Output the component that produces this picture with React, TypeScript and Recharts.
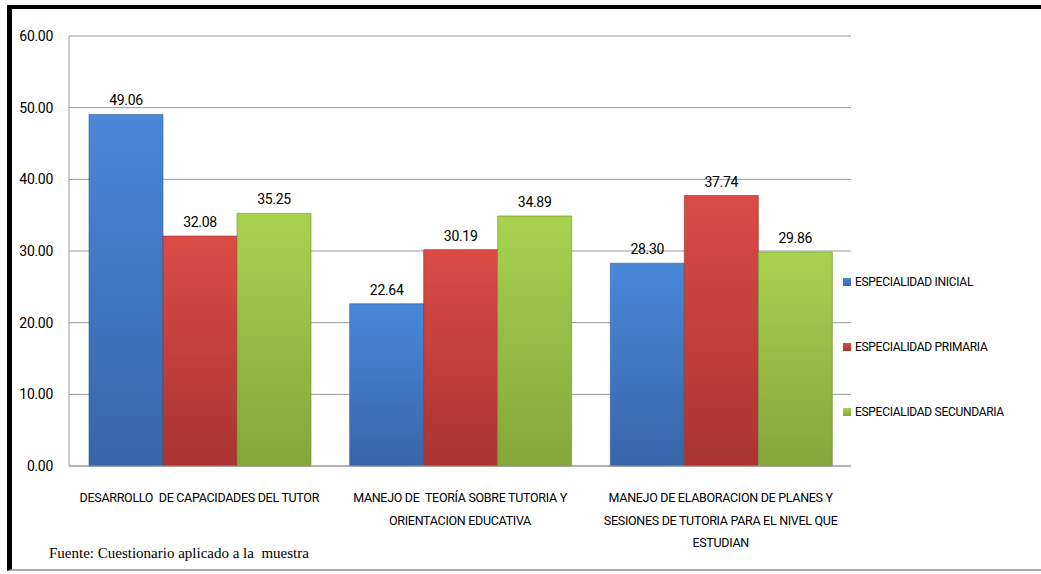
import React from 'react';
import { BarChart, Bar, XAxis, YAxis, CartesianGrid, LabelList } from 'recharts';

const categorias = [
  'DESARROLLO  DE CAPACIDADES DEL TUTOR',
  'MANEJO DE  TEORÍA SOBRE TUTORIA Y\nORIENTACION EDUCATIVA',
  'MANEJO DE ELABORACION DE PLANES Y\nSESIONES DE TUTORIA PARA EL NIVEL QUE\nESTUDIAN',
];
const inicial = [49.06, 22.64, 28.3];
const primaria = [32.08, 30.19, 37.74];
const secundaria = [35.25, 34.89, 29.86];
const ticksY = [0, 10, 20, 30, 40, 50, 60];

const series = [
  { key: 'inicial', nombre: 'ESPECIALIDAD INICIAL', top: '#4a88d8', bottom: '#3865ab', stroke: '#2f5a98' },
  { key: 'primaria', nombre: 'ESPECIALIDAD PRIMARIA', top: '#dc4b46', bottom: '#a93430', stroke: '#943029' },
  { key: 'secundaria', nombre: 'ESPECIALIDAD SECUNDARIA', top: '#a8d24e', bottom: '#84a63c', stroke: '#6f8f30' },
];

const data = categorias.map((c, i) => ({
  name: c,
  inicial: inicial[i],
  primaria: primaria[i],
  secundaria: secundaria[i],
}));

const FONT = 'Roboto, "Noto Sans", sans-serif';

function CategoriaTick(props: any) {
  const { x, y, payload } = props;
  const lineas = String(payload.value).split('\n');
  return (
    <g transform={`translate(${x},${y})`}>
      {lineas.map((l, i) => (
        <text key={i} x={0} y={25 + i * 22.5} textAnchor="middle" dominantBaseline="middle"
          fontSize={12.5} letterSpacing={-0.3} fill="#000" fontFamily={FONT} style={{ whiteSpace: 'pre' }}>
          {l}
        </text>
      ))}
    </g>
  );
}

export default function App() {
  return (
    <div style={{ position: 'fixed', left: 0, top: 0, width: 1041, height: 574, background: '#fff', overflow: 'hidden' }}>
      {/* marco */}
      <div style={{ position: 'absolute', left: 7, top: 5, width: 1034, height: 566, borderTop: '4px solid #000', borderLeft: '5px solid #000', borderBottom: '2px solid #aaa', boxSizing: 'border-box' }} />

      <div style={{ position: 'absolute', left: 0, top: 0 }}>
        <BarChart width={1041} height={574} data={data}
          margin={{ top: 36, right: 190, left: 0, bottom: 0 }}
          barCategoryGap={20} barGap={0}>
          <defs>
            {series.map(s => (
              <linearGradient key={s.key} id={`g-${s.key}`} x1="0" y1="0" x2="0" y2="1">
                <stop offset="0%" stopColor={s.top} />
                <stop offset="100%" stopColor={s.bottom} />
              </linearGradient>
            ))}
          </defs>
          <CartesianGrid vertical={false} stroke="#999" strokeWidth={1} />
          <XAxis dataKey="name" interval={0} tickLine={false} stroke="#999" tick={<CategoriaTick />} height={108} />
          <YAxis width={69} domain={[0, 60]} ticks={ticksY} tickLine={false} stroke="#999"
            tickFormatter={(v: number) => v.toFixed(2)}
            tick={{ fill: '#000', fontSize: 14, fontFamily: FONT, letterSpacing: -0.3 }} tickMargin={10} />
          {series.map(s => (
            <Bar key={s.key} dataKey={s.key} fill={`url(#g-${s.key})`} stroke={s.stroke} strokeWidth={0.6}
              isAnimationActive={false}>
              <LabelList dataKey={s.key} position="top" offset={9}
                formatter={(v: any) => Number(v).toFixed(2)}
                style={{ fill: '#000', fontSize: 14, fontFamily: FONT, letterSpacing: -0.3 }} />
            </Bar>
          ))}
        </BarChart>
      </div>

      {/* leyenda */}
      <div style={{ position: 'absolute', left: 843, top: 273, fontFamily: FONT, fontSize: 12, letterSpacing: -0.3, color: '#000' }}>
        {series.map((s, i) => (
          <div key={s.key} style={{ position: 'absolute', top: i * 65, left: 0, whiteSpace: 'nowrap', display: 'flex', alignItems: 'center', height: 18 }}>
            <span style={{ display: 'inline-block', width: 8, height: 8, marginRight: 4, background: `linear-gradient(${s.top}, ${s.bottom})` }} />
            {s.nombre}
          </div>
        ))}
      </div>

      <div style={{ position: 'absolute', left: 49, top: 545, fontFamily: '"Liberation Serif", "Times New Roman", serif', fontSize: 15, color: '#000', whiteSpace: 'pre' }}>
        Fuente: Cuestionario aplicado a la  muestra
      </div>
    </div>
  );
}
